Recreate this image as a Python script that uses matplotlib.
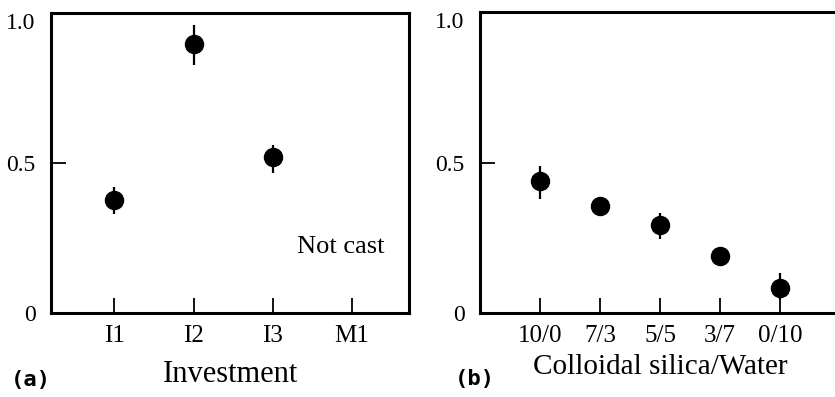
import matplotlib
matplotlib.use("Agg")
import matplotlib.pyplot as plt

plt.rcParams['font.family'] = ['Liberation Serif', 'DejaVu Serif']

# (a) investment types
inv_labels = ["I1", "I2", "I3", "M1"]
inv_values = [0.375, 0.895, 0.52]
inv_err_lo = [0.045, 0.07, 0.055]
inv_err_hi = [0.045, 0.065, 0.04]

# (b) colloidal silica / water ratio
ratio_labels = ["10/0", "7/3", "5/5", "3/7", "0/10"]
ratio_values = [0.44, 0.355, 0.292, 0.189, 0.082]
ratio_err_lo = [0.06, 0.0, 0.047, 0.0, 0.04]
ratio_err_hi = [0.047, 0.0, 0.04, 0.0, 0.05]

yticks = [0, 0.5, 1.0]
yticklabels = ["0", "0.5", "1.0"]

fig = plt.figure(figsize=(8.35, 3.97), dpi=100)
ax1 = fig.add_axes([0.0611, 0.2116, 0.4287, 0.756])
ax2 = fig.add_axes([0.5749, 0.2116, 0.4311, 0.758])


def style(ax):
    for s in ax.spines.values():
        s.set_linewidth(2.2)
    ax.tick_params(direction="in", length=11, width=1.3)
    ax.tick_params(axis="x", labelsize=18, pad=9)
    ax.tick_params(axis="y", labelsize=17, pad=11)
    ax.set_yticks(yticks)
    ax.set_yticklabels(yticklabels)
    ax.set_ylim(0, 1.0)
    ax.get_yticklabels()[-1].set_va("top")


# panel a
x1 = list(range(1, len(inv_values) + 1))
ax1.errorbar(x1, inv_values, yerr=[inv_err_lo, inv_err_hi], fmt="o",
             color="black", ms=13, elinewidth=1.6, capsize=0)
ax1.set_xticks(range(1, len(inv_labels) + 1))
ax1.set_xticklabels(inv_labels)
ax1.set_xlim(0.2, 4.72)
style(ax1)
ax1.text(3.86, 0.22, "Not cast", fontsize=19, ha="center", va="center")
ax1.set_xlabel("Investment", fontsize=22, labelpad=9)

# panel b
x2 = list(range(1, len(ratio_values) + 1))
ax2.errorbar(x2, ratio_values, yerr=[ratio_err_lo, ratio_err_hi], fmt="o",
             color="black", ms=13, elinewidth=1.6, capsize=0)
ax2.set_xticks(x2)
ax2.set_xticklabels(ratio_labels)
ax2.set_xlim(0, 6)
style(ax2)
ax2.spines["right"].set_visible(False)
ax2.set_xlabel("Colloidal silica/Water", fontsize=21, labelpad=5)

fig.text(0.037, 0.043, "(a)", fontsize=16, fontweight="bold",
         family="DejaVu Sans Mono", ha="center", va="center")
fig.text(0.569, 0.045, "(b)", fontsize=16, fontweight="bold",
         family="DejaVu Sans Mono", ha="center", va="center")

fig.savefig("out.png", dpi=100)
